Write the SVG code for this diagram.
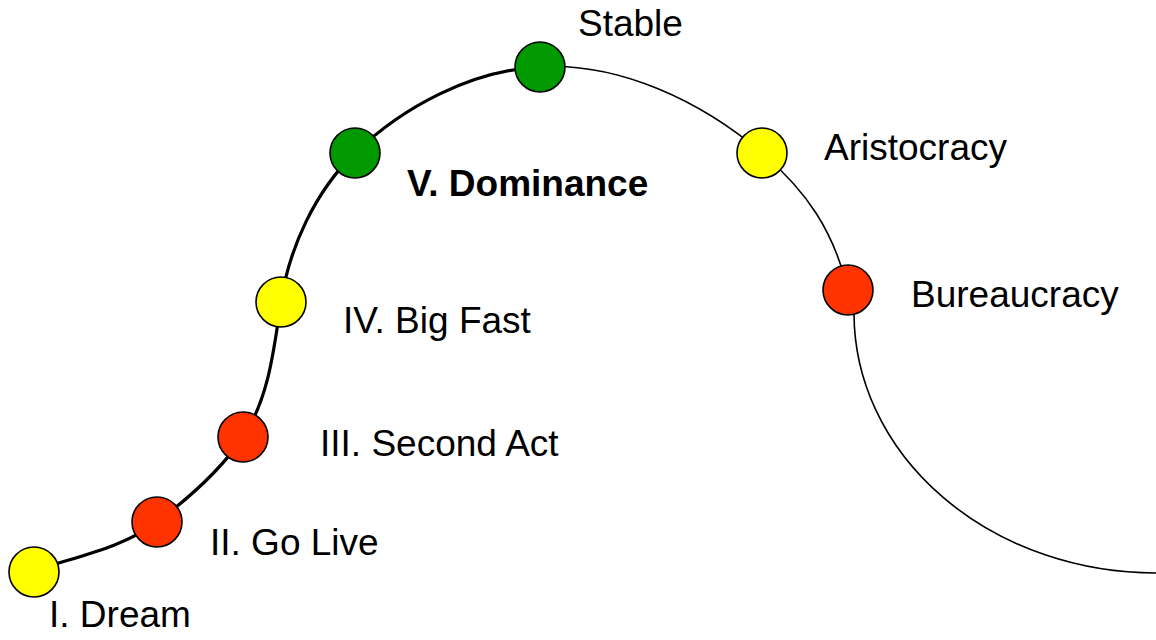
<svg xmlns="http://www.w3.org/2000/svg" width="1156" height="640" viewBox="0 0 1156 640">
<style>
.thick{fill:none;stroke:#000;stroke-width:3.2}
.thin{fill:none;stroke:#000;stroke-width:1.6}
.dot{stroke:#000;stroke-width:1.6}
.y{fill:#FFFF00}.r{fill:#FF3300}.g{fill:#009900}
text{font-family:"Liberation Sans",Arial,sans-serif;font-size:37px;fill:#000}
.b{font-weight:bold}
</style>
<rect width="1156" height="640" fill="#fff"/>
<g id="connectors">
<path class="thick" d="M34,571 C75.5,556.5 121.8,548.4 157,522 C189,498 220.8,470.3 243,437 C269.1,397.9 274,348.5 281,302 C289.1,247.6 315.4,191 355,153 C404,106 472,70.4 540,67"/>
<path class="thin" d="M540,67 C618.8,61.8 702,101.7 762,153 C807.6,192 833,230.8 848,289 L854,314 A302,260 0 0 0 1156,573"/>
</g>
<g id="n1"><circle class="dot y" cx="34" cy="572" r="25"/><text x="49" y="627">I. Dream</text></g>
<g id="n2"><circle class="dot r" cx="157" cy="522" r="25"/><text x="210" y="555">II. Go Live</text></g>
<g id="n3"><circle class="dot r" cx="243" cy="437" r="25"/><text x="320" y="456">III. Second Act</text></g>
<g id="n4"><circle class="dot y" cx="281" cy="302" r="25"/><text x="343" y="333">IV. Big Fast</text></g>
<g id="n5"><circle class="dot g" cx="355" cy="153" r="25"/><text class="b" x="407" y="196">V. Dominance</text></g>
<g id="n6"><circle class="dot g" cx="540" cy="67" r="25"/><text x="578" y="36">Stable</text></g>
<g id="n7"><circle class="dot y" cx="762" cy="153" r="25"/><text x="824" y="160">Aristocracy</text></g>
<g id="n8"><circle class="dot r" cx="848" cy="290" r="25"/><text x="911" y="307">Bureaucracy</text></g>
</svg>
